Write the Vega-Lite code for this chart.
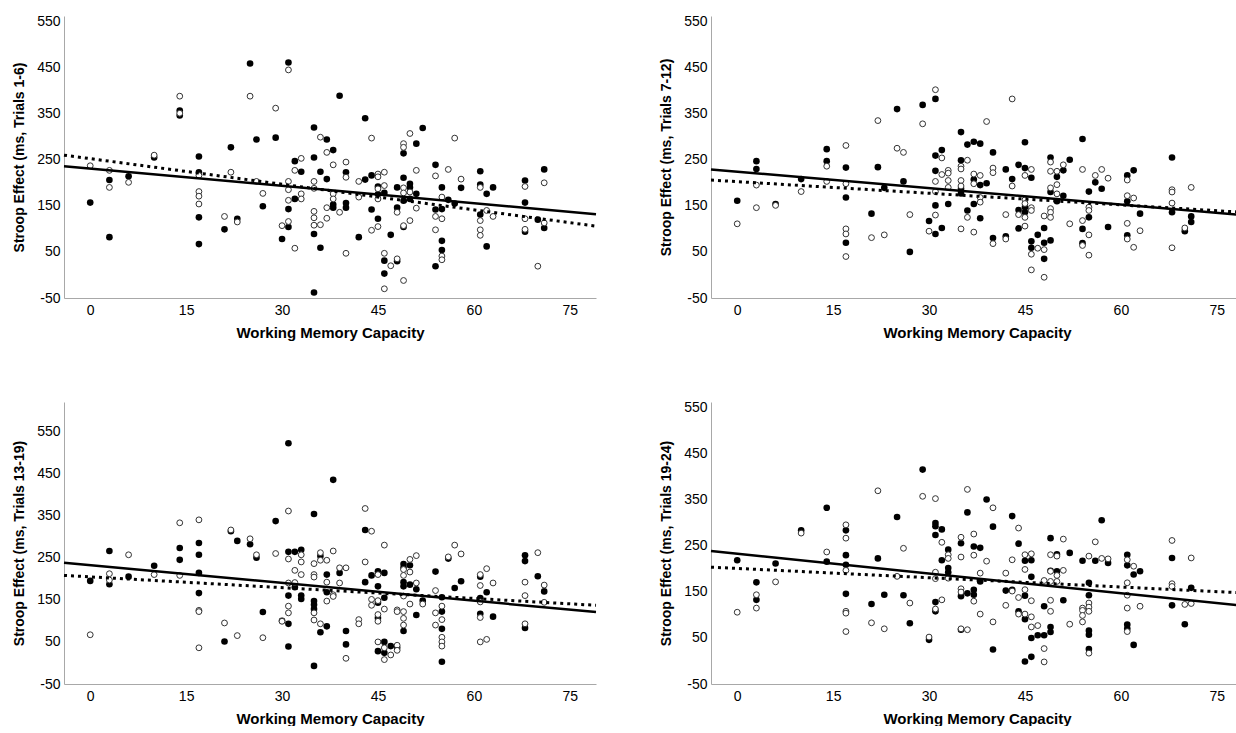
{
"$schema":"https://vega.github.io/schema/vega-lite/v6.json",
"background":"white",
"padding":{"left":12,"top":14,"right":0,"bottom":0},
"columns":2,
"spacing":{"row":60,"column":57},
"datasets":{
"fit":[
{"p":1,"s":"solid","x":-4.1,"y":236},{"p":1,"s":"solid","x":79.1,"y":132},
{"p":1,"s":"dot","x":-4.1,"y":260},{"p":1,"s":"dot","x":79.1,"y":106},
{"p":2,"s":"solid","x":-4.1,"y":229},{"p":2,"s":"solid","x":79.1,"y":130},
{"p":2,"s":"dot","x":-4.1,"y":206},{"p":2,"s":"dot","x":79.1,"y":136},
{"p":3,"s":"solid","x":-4.1,"y":238},{"p":3,"s":"solid","x":79.1,"y":121},
{"p":3,"s":"dot","x":-4.1,"y":208},{"p":3,"s":"dot","x":79.1,"y":137},
{"p":4,"s":"solid","x":-4.1,"y":239},{"p":4,"s":"solid","x":79.1,"y":120},
{"p":4,"s":"dot","x":-4.1,"y":204},{"p":4,"s":"dot","x":79.1,"y":148}
],
"pts":[
{"p":1,"c":"F","x":0,"y":157},{"p":1,"c":"F","x":3,"y":206},{"p":1,"c":"F","x":3,"y":82},{"p":1,"c":"F","x":6,"y":214},{"p":1,"c":"F","x":10,"y":255},{"p":1,"c":"F","x":14,"y":357},{"p":1,"c":"F","x":14,"y":346},{"p":1,"c":"F","x":17,"y":257},{"p":1,"c":"F","x":17,"y":223},{"p":1,"c":"F","x":17,"y":125},{"p":1,"c":"F","x":17,"y":67},{"p":1,"c":"F","x":21,"y":99},{"p":1,"c":"F","x":22,"y":277},{"p":1,"c":"F","x":23,"y":122},{"p":1,"c":"F","x":25,"y":459},{"p":1,"c":"F","x":26,"y":294},{"p":1,"c":"F","x":27,"y":149},{"p":1,"c":"F","x":29,"y":298},{"p":1,"c":"F","x":30,"y":78},{"p":1,"c":"F","x":31,"y":461},{"p":1,"c":"F","x":31,"y":143},{"p":1,"c":"F","x":31,"y":104},{"p":1,"c":"F","x":32,"y":247},{"p":1,"c":"F","x":32,"y":165},{"p":1,"c":"F","x":33,"y":224},{"p":1,"c":"F","x":35,"y":320},{"p":1,"c":"F","x":35,"y":255},{"p":1,"c":"F","x":35,"y":89},{"p":1,"c":"F","x":35,"y":-38},{"p":1,"c":"F","x":36,"y":224},{"p":1,"c":"F","x":36,"y":59},{"p":1,"c":"F","x":37,"y":294},{"p":1,"c":"F","x":37,"y":208},{"p":1,"c":"F","x":38,"y":271},{"p":1,"c":"F","x":38,"y":153},{"p":1,"c":"F","x":38,"y":146},{"p":1,"c":"F","x":39,"y":389},{"p":1,"c":"F","x":40,"y":223},{"p":1,"c":"F","x":40,"y":156},{"p":1,"c":"F","x":40,"y":146},{"p":1,"c":"F","x":42,"y":82},{"p":1,"c":"F","x":43,"y":340},{"p":1,"c":"F","x":43,"y":207},{"p":1,"c":"F","x":44,"y":216},{"p":1,"c":"F","x":44,"y":142},{"p":1,"c":"F","x":45,"y":192},{"p":1,"c":"F","x":45,"y":175},{"p":1,"c":"F","x":45,"y":122},{"p":1,"c":"F","x":46,"y":178},{"p":1,"c":"F","x":46,"y":31},{"p":1,"c":"F","x":46,"y":3},{"p":1,"c":"F","x":47,"y":87},{"p":1,"c":"F","x":48,"y":190},{"p":1,"c":"F","x":48,"y":146},{"p":1,"c":"F","x":48,"y":30},{"p":1,"c":"F","x":49,"y":264},{"p":1,"c":"F","x":49,"y":211},{"p":1,"c":"F","x":49,"y":161},{"p":1,"c":"F","x":49,"y":104},{"p":1,"c":"F","x":50,"y":198},{"p":1,"c":"F","x":50,"y":190},{"p":1,"c":"F","x":50,"y":165},{"p":1,"c":"F","x":51,"y":285},{"p":1,"c":"F","x":51,"y":176},{"p":1,"c":"F","x":52,"y":319},{"p":1,"c":"F","x":54,"y":239},{"p":1,"c":"F","x":54,"y":142},{"p":1,"c":"F","x":54,"y":19},{"p":1,"c":"F","x":55,"y":190},{"p":1,"c":"F","x":55,"y":143},{"p":1,"c":"F","x":55,"y":74},{"p":1,"c":"F","x":55,"y":54},{"p":1,"c":"F","x":56,"y":163},{"p":1,"c":"F","x":57,"y":155},{"p":1,"c":"F","x":58,"y":189},{"p":1,"c":"F","x":61,"y":225},{"p":1,"c":"F","x":61,"y":196},{"p":1,"c":"F","x":61,"y":131},{"p":1,"c":"F","x":62,"y":176},{"p":1,"c":"F","x":62,"y":62},{"p":1,"c":"F","x":63,"y":190},{"p":1,"c":"F","x":68,"y":205},{"p":1,"c":"F","x":68,"y":157},{"p":1,"c":"F","x":68,"y":94},{"p":1,"c":"F","x":70,"y":120},{"p":1,"c":"F","x":71,"y":229},{"p":1,"c":"F","x":71,"y":102},
{"p":1,"c":"O","x":0,"y":237},{"p":1,"c":"O","x":3,"y":227},{"p":1,"c":"O","x":3,"y":190},{"p":1,"c":"O","x":6,"y":201},{"p":1,"c":"O","x":10,"y":260},{"p":1,"c":"O","x":14,"y":388},{"p":1,"c":"O","x":14,"y":351},{"p":1,"c":"O","x":17,"y":216},{"p":1,"c":"O","x":17,"y":181},{"p":1,"c":"O","x":17,"y":171},{"p":1,"c":"O","x":17,"y":154},{"p":1,"c":"O","x":21,"y":127},{"p":1,"c":"O","x":22,"y":223},{"p":1,"c":"O","x":23,"y":115},{"p":1,"c":"O","x":25,"y":388},{"p":1,"c":"O","x":26,"y":203},{"p":1,"c":"O","x":27,"y":177},{"p":1,"c":"O","x":29,"y":362},{"p":1,"c":"O","x":30,"y":107},{"p":1,"c":"O","x":31,"y":445},{"p":1,"c":"O","x":31,"y":203},{"p":1,"c":"O","x":31,"y":185},{"p":1,"c":"O","x":31,"y":162},{"p":1,"c":"O","x":31,"y":116},{"p":1,"c":"O","x":32,"y":227},{"p":1,"c":"O","x":32,"y":58},{"p":1,"c":"O","x":33,"y":253},{"p":1,"c":"O","x":33,"y":176},{"p":1,"c":"O","x":33,"y":165},{"p":1,"c":"O","x":35,"y":203},{"p":1,"c":"O","x":35,"y":188},{"p":1,"c":"O","x":35,"y":138},{"p":1,"c":"O","x":35,"y":124},{"p":1,"c":"O","x":35,"y":108},{"p":1,"c":"O","x":36,"y":299},{"p":1,"c":"O","x":36,"y":109},{"p":1,"c":"O","x":37,"y":266},{"p":1,"c":"O","x":37,"y":146},{"p":1,"c":"O","x":37,"y":123},{"p":1,"c":"O","x":38,"y":239},{"p":1,"c":"O","x":38,"y":176},{"p":1,"c":"O","x":38,"y":165},{"p":1,"c":"O","x":39,"y":136},{"p":1,"c":"O","x":40,"y":245},{"p":1,"c":"O","x":40,"y":212},{"p":1,"c":"O","x":40,"y":47},{"p":1,"c":"O","x":42,"y":203},{"p":1,"c":"O","x":42,"y":169},{"p":1,"c":"O","x":44,"y":297},{"p":1,"c":"O","x":44,"y":97},{"p":1,"c":"O","x":45,"y":219},{"p":1,"c":"O","x":45,"y":213},{"p":1,"c":"O","x":45,"y":187},{"p":1,"c":"O","x":45,"y":165},{"p":1,"c":"O","x":45,"y":105},{"p":1,"c":"O","x":46,"y":223},{"p":1,"c":"O","x":46,"y":194},{"p":1,"c":"O","x":46,"y":47},{"p":1,"c":"O","x":46,"y":-30},{"p":1,"c":"O","x":47,"y":20},{"p":1,"c":"O","x":48,"y":136},{"p":1,"c":"O","x":48,"y":35},{"p":1,"c":"O","x":49,"y":285},{"p":1,"c":"O","x":49,"y":277},{"p":1,"c":"O","x":49,"y":189},{"p":1,"c":"O","x":49,"y":178},{"p":1,"c":"O","x":49,"y":107},{"p":1,"c":"O","x":49,"y":-12},{"p":1,"c":"O","x":50,"y":307},{"p":1,"c":"O","x":50,"y":180},{"p":1,"c":"O","x":50,"y":118},{"p":1,"c":"O","x":51,"y":227},{"p":1,"c":"O","x":51,"y":145},{"p":1,"c":"O","x":54,"y":215},{"p":1,"c":"O","x":54,"y":127},{"p":1,"c":"O","x":54,"y":98},{"p":1,"c":"O","x":55,"y":169},{"p":1,"c":"O","x":55,"y":122},{"p":1,"c":"O","x":55,"y":41},{"p":1,"c":"O","x":55,"y":33},{"p":1,"c":"O","x":56,"y":229},{"p":1,"c":"O","x":57,"y":297},{"p":1,"c":"O","x":58,"y":208},{"p":1,"c":"O","x":61,"y":190},{"p":1,"c":"O","x":61,"y":118},{"p":1,"c":"O","x":61,"y":98},{"p":1,"c":"O","x":61,"y":86},{"p":1,"c":"O","x":62,"y":140},{"p":1,"c":"O","x":63,"y":127},{"p":1,"c":"O","x":68,"y":192},{"p":1,"c":"O","x":68,"y":122},{"p":1,"c":"O","x":68,"y":99},{"p":1,"c":"O","x":70,"y":19},{"p":1,"c":"O","x":71,"y":200},{"p":1,"c":"O","x":71,"y":113},
{"p":2,"c":"F","x":0,"y":161},{"p":2,"c":"F","x":3,"y":247},{"p":2,"c":"F","x":3,"y":230},{"p":2,"c":"F","x":6,"y":154},{"p":2,"c":"F","x":10,"y":208},{"p":2,"c":"F","x":14,"y":273},{"p":2,"c":"F","x":14,"y":247},{"p":2,"c":"F","x":17,"y":233},{"p":2,"c":"F","x":17,"y":168},{"p":2,"c":"F","x":17,"y":70},{"p":2,"c":"F","x":21,"y":133},{"p":2,"c":"F","x":22,"y":234},{"p":2,"c":"F","x":23,"y":189},{"p":2,"c":"F","x":25,"y":360},{"p":2,"c":"F","x":26,"y":203},{"p":2,"c":"F","x":27,"y":50},{"p":2,"c":"F","x":29,"y":369},{"p":2,"c":"F","x":30,"y":117},{"p":2,"c":"F","x":31,"y":382},{"p":2,"c":"F","x":31,"y":259},{"p":2,"c":"F","x":31,"y":226},{"p":2,"c":"F","x":31,"y":151},{"p":2,"c":"F","x":31,"y":89},{"p":2,"c":"F","x":32,"y":271},{"p":2,"c":"F","x":32,"y":102},{"p":2,"c":"F","x":33,"y":154},{"p":2,"c":"F","x":35,"y":310},{"p":2,"c":"F","x":35,"y":249},{"p":2,"c":"F","x":35,"y":187},{"p":2,"c":"F","x":35,"y":177},{"p":2,"c":"F","x":36,"y":283},{"p":2,"c":"F","x":36,"y":140},{"p":2,"c":"F","x":37,"y":289},{"p":2,"c":"F","x":37,"y":207},{"p":2,"c":"F","x":37,"y":154},{"p":2,"c":"F","x":38,"y":285},{"p":2,"c":"F","x":38,"y":195},{"p":2,"c":"F","x":38,"y":123},{"p":2,"c":"F","x":39,"y":199},{"p":2,"c":"F","x":40,"y":266},{"p":2,"c":"F","x":40,"y":80},{"p":2,"c":"F","x":42,"y":229},{"p":2,"c":"F","x":42,"y":84},{"p":2,"c":"F","x":43,"y":208},{"p":2,"c":"F","x":44,"y":239},{"p":2,"c":"F","x":44,"y":141},{"p":2,"c":"F","x":44,"y":101},{"p":2,"c":"F","x":45,"y":288},{"p":2,"c":"F","x":45,"y":232},{"p":2,"c":"F","x":45,"y":147},{"p":2,"c":"F","x":45,"y":136},{"p":2,"c":"F","x":46,"y":211},{"p":2,"c":"F","x":46,"y":73},{"p":2,"c":"F","x":46,"y":59},{"p":2,"c":"F","x":47,"y":87},{"p":2,"c":"F","x":48,"y":102},{"p":2,"c":"F","x":48,"y":70},{"p":2,"c":"F","x":48,"y":35},{"p":2,"c":"F","x":49,"y":255},{"p":2,"c":"F","x":49,"y":180},{"p":2,"c":"F","x":49,"y":75},{"p":2,"c":"F","x":50,"y":213},{"p":2,"c":"F","x":50,"y":160},{"p":2,"c":"F","x":51,"y":227},{"p":2,"c":"F","x":51,"y":172},{"p":2,"c":"F","x":52,"y":250},{"p":2,"c":"F","x":54,"y":295},{"p":2,"c":"F","x":54,"y":100},{"p":2,"c":"F","x":54,"y":69},{"p":2,"c":"F","x":55,"y":181},{"p":2,"c":"F","x":55,"y":125},{"p":2,"c":"F","x":56,"y":201},{"p":2,"c":"F","x":57,"y":187},{"p":2,"c":"F","x":58,"y":104},{"p":2,"c":"F","x":61,"y":216},{"p":2,"c":"F","x":61,"y":160},{"p":2,"c":"F","x":61,"y":86},{"p":2,"c":"F","x":62,"y":227},{"p":2,"c":"F","x":63,"y":133},{"p":2,"c":"F","x":68,"y":255},{"p":2,"c":"F","x":68,"y":136},{"p":2,"c":"F","x":70,"y":95},{"p":2,"c":"F","x":71,"y":127},{"p":2,"c":"F","x":71,"y":115},
{"p":2,"c":"O","x":0,"y":111},{"p":2,"c":"O","x":3,"y":195},{"p":2,"c":"O","x":3,"y":146},{"p":2,"c":"O","x":6,"y":151},{"p":2,"c":"O","x":10,"y":181},{"p":2,"c":"O","x":14,"y":236},{"p":2,"c":"O","x":14,"y":203},{"p":2,"c":"O","x":17,"y":281},{"p":2,"c":"O","x":17,"y":198},{"p":2,"c":"O","x":17,"y":100},{"p":2,"c":"O","x":17,"y":89},{"p":2,"c":"O","x":17,"y":40},{"p":2,"c":"O","x":21,"y":81},{"p":2,"c":"O","x":22,"y":335},{"p":2,"c":"O","x":23,"y":87},{"p":2,"c":"O","x":25,"y":275},{"p":2,"c":"O","x":26,"y":266},{"p":2,"c":"O","x":27,"y":131},{"p":2,"c":"O","x":29,"y":328},{"p":2,"c":"O","x":30,"y":95},{"p":2,"c":"O","x":31,"y":402},{"p":2,"c":"O","x":31,"y":203},{"p":2,"c":"O","x":31,"y":181},{"p":2,"c":"O","x":31,"y":130},{"p":2,"c":"O","x":32,"y":254},{"p":2,"c":"O","x":32,"y":218},{"p":2,"c":"O","x":33,"y":227},{"p":2,"c":"O","x":33,"y":221},{"p":2,"c":"O","x":33,"y":205},{"p":2,"c":"O","x":33,"y":190},{"p":2,"c":"O","x":35,"y":236},{"p":2,"c":"O","x":35,"y":230},{"p":2,"c":"O","x":35,"y":205},{"p":2,"c":"O","x":35,"y":193},{"p":2,"c":"O","x":35,"y":100},{"p":2,"c":"O","x":36,"y":249},{"p":2,"c":"O","x":36,"y":125},{"p":2,"c":"O","x":37,"y":219},{"p":2,"c":"O","x":37,"y":198},{"p":2,"c":"O","x":37,"y":93},{"p":2,"c":"O","x":38,"y":216},{"p":2,"c":"O","x":38,"y":168},{"p":2,"c":"O","x":38,"y":158},{"p":2,"c":"O","x":39,"y":333},{"p":2,"c":"O","x":40,"y":232},{"p":2,"c":"O","x":40,"y":222},{"p":2,"c":"O","x":40,"y":68},{"p":2,"c":"O","x":42,"y":131},{"p":2,"c":"O","x":42,"y":78},{"p":2,"c":"O","x":43,"y":382},{"p":2,"c":"O","x":43,"y":193},{"p":2,"c":"O","x":44,"y":131},{"p":2,"c":"O","x":45,"y":216},{"p":2,"c":"O","x":45,"y":163},{"p":2,"c":"O","x":45,"y":155},{"p":2,"c":"O","x":45,"y":125},{"p":2,"c":"O","x":45,"y":106},{"p":2,"c":"O","x":46,"y":229},{"p":2,"c":"O","x":46,"y":146},{"p":2,"c":"O","x":46,"y":140},{"p":2,"c":"O","x":46,"y":45},{"p":2,"c":"O","x":46,"y":11},{"p":2,"c":"O","x":47,"y":58},{"p":2,"c":"O","x":48,"y":128},{"p":2,"c":"O","x":48,"y":55},{"p":2,"c":"O","x":48,"y":-5},{"p":2,"c":"O","x":49,"y":245},{"p":2,"c":"O","x":49,"y":225},{"p":2,"c":"O","x":49,"y":189},{"p":2,"c":"O","x":49,"y":144},{"p":2,"c":"O","x":49,"y":136},{"p":2,"c":"O","x":49,"y":125},{"p":2,"c":"O","x":50,"y":225},{"p":2,"c":"O","x":50,"y":196},{"p":2,"c":"O","x":50,"y":176},{"p":2,"c":"O","x":51,"y":239},{"p":2,"c":"O","x":52,"y":111},{"p":2,"c":"O","x":54,"y":229},{"p":2,"c":"O","x":54,"y":118},{"p":2,"c":"O","x":54,"y":64},{"p":2,"c":"O","x":55,"y":147},{"p":2,"c":"O","x":55,"y":140},{"p":2,"c":"O","x":55,"y":87},{"p":2,"c":"O","x":55,"y":43},{"p":2,"c":"O","x":56,"y":216},{"p":2,"c":"O","x":57,"y":229},{"p":2,"c":"O","x":58,"y":210},{"p":2,"c":"O","x":61,"y":206},{"p":2,"c":"O","x":61,"y":172},{"p":2,"c":"O","x":61,"y":112},{"p":2,"c":"O","x":61,"y":78},{"p":2,"c":"O","x":62,"y":167},{"p":2,"c":"O","x":62,"y":60},{"p":2,"c":"O","x":63,"y":96},{"p":2,"c":"O","x":68,"y":185},{"p":2,"c":"O","x":68,"y":180},{"p":2,"c":"O","x":68,"y":156},{"p":2,"c":"O","x":68,"y":59},{"p":2,"c":"O","x":70,"y":102},{"p":2,"c":"O","x":71,"y":190},
{"p":3,"c":"F","x":0,"y":195},{"p":3,"c":"F","x":3,"y":266},{"p":3,"c":"F","x":3,"y":187},{"p":3,"c":"F","x":6,"y":205},{"p":3,"c":"F","x":10,"y":231},{"p":3,"c":"F","x":14,"y":273},{"p":3,"c":"F","x":14,"y":245},{"p":3,"c":"F","x":17,"y":285},{"p":3,"c":"F","x":17,"y":257},{"p":3,"c":"F","x":17,"y":214},{"p":3,"c":"F","x":17,"y":166},{"p":3,"c":"F","x":21,"y":51},{"p":3,"c":"F","x":22,"y":313},{"p":3,"c":"F","x":23,"y":290},{"p":3,"c":"F","x":25,"y":282},{"p":3,"c":"F","x":26,"y":250},{"p":3,"c":"F","x":27,"y":121},{"p":3,"c":"F","x":29,"y":337},{"p":3,"c":"F","x":30,"y":100},{"p":3,"c":"F","x":31,"y":522},{"p":3,"c":"F","x":31,"y":264},{"p":3,"c":"F","x":31,"y":160},{"p":3,"c":"F","x":31,"y":93},{"p":3,"c":"F","x":31,"y":39},{"p":3,"c":"F","x":32,"y":264},{"p":3,"c":"F","x":32,"y":180},{"p":3,"c":"F","x":33,"y":269},{"p":3,"c":"F","x":33,"y":160},{"p":3,"c":"F","x":33,"y":152},{"p":3,"c":"F","x":35,"y":354},{"p":3,"c":"F","x":35,"y":147},{"p":3,"c":"F","x":35,"y":138},{"p":3,"c":"F","x":35,"y":128},{"p":3,"c":"F","x":35,"y":-7},{"p":3,"c":"F","x":36,"y":254},{"p":3,"c":"F","x":36,"y":73},{"p":3,"c":"F","x":37,"y":210},{"p":3,"c":"F","x":37,"y":168},{"p":3,"c":"F","x":37,"y":87},{"p":3,"c":"F","x":38,"y":435},{"p":3,"c":"F","x":39,"y":214},{"p":3,"c":"F","x":40,"y":76},{"p":3,"c":"F","x":40,"y":44},{"p":3,"c":"F","x":43,"y":316},{"p":3,"c":"F","x":43,"y":192},{"p":3,"c":"F","x":44,"y":208},{"p":3,"c":"F","x":45,"y":218},{"p":3,"c":"F","x":45,"y":182},{"p":3,"c":"F","x":45,"y":143},{"p":3,"c":"F","x":45,"y":107},{"p":3,"c":"F","x":45,"y":28},{"p":3,"c":"F","x":46,"y":214},{"p":3,"c":"F","x":46,"y":155},{"p":3,"c":"F","x":46,"y":50},{"p":3,"c":"F","x":46,"y":24},{"p":3,"c":"F","x":47,"y":40},{"p":3,"c":"F","x":48,"y":36},{"p":3,"c":"F","x":49,"y":235},{"p":3,"c":"F","x":49,"y":226},{"p":3,"c":"F","x":49,"y":192},{"p":3,"c":"F","x":49,"y":182},{"p":3,"c":"F","x":49,"y":76},{"p":3,"c":"F","x":50,"y":232},{"p":3,"c":"F","x":50,"y":186},{"p":3,"c":"F","x":51,"y":175},{"p":3,"c":"F","x":51,"y":114},{"p":3,"c":"F","x":52,"y":148},{"p":3,"c":"F","x":54,"y":217},{"p":3,"c":"F","x":55,"y":156},{"p":3,"c":"F","x":55,"y":122},{"p":3,"c":"F","x":55,"y":81},{"p":3,"c":"F","x":55,"y":3},{"p":3,"c":"F","x":56,"y":248},{"p":3,"c":"F","x":57,"y":178},{"p":3,"c":"F","x":58,"y":194},{"p":3,"c":"F","x":61,"y":205},{"p":3,"c":"F","x":61,"y":154},{"p":3,"c":"F","x":61,"y":117},{"p":3,"c":"F","x":62,"y":168},{"p":3,"c":"F","x":63,"y":110},{"p":3,"c":"F","x":68,"y":256},{"p":3,"c":"F","x":68,"y":242},{"p":3,"c":"F","x":68,"y":83},{"p":3,"c":"F","x":70,"y":206},{"p":3,"c":"F","x":71,"y":170},
{"p":3,"c":"O","x":0,"y":67},{"p":3,"c":"O","x":3,"y":212},{"p":3,"c":"O","x":3,"y":197},{"p":3,"c":"O","x":6,"y":257},{"p":3,"c":"O","x":10,"y":210},{"p":3,"c":"O","x":14,"y":333},{"p":3,"c":"O","x":14,"y":208},{"p":3,"c":"O","x":17,"y":340},{"p":3,"c":"O","x":17,"y":125},{"p":3,"c":"O","x":17,"y":122},{"p":3,"c":"O","x":17,"y":36},{"p":3,"c":"O","x":21,"y":95},{"p":3,"c":"O","x":22,"y":316},{"p":3,"c":"O","x":23,"y":65},{"p":3,"c":"O","x":25,"y":295},{"p":3,"c":"O","x":26,"y":257},{"p":3,"c":"O","x":27,"y":60},{"p":3,"c":"O","x":29,"y":260},{"p":3,"c":"O","x":30,"y":99},{"p":3,"c":"O","x":31,"y":361},{"p":3,"c":"O","x":31,"y":247},{"p":3,"c":"O","x":31,"y":190},{"p":3,"c":"O","x":31,"y":135},{"p":3,"c":"O","x":31,"y":119},{"p":3,"c":"O","x":32,"y":220},{"p":3,"c":"O","x":32,"y":191},{"p":3,"c":"O","x":33,"y":257},{"p":3,"c":"O","x":33,"y":240},{"p":3,"c":"O","x":33,"y":210},{"p":3,"c":"O","x":35,"y":236},{"p":3,"c":"O","x":35,"y":210},{"p":3,"c":"O","x":35,"y":204},{"p":3,"c":"O","x":35,"y":119},{"p":3,"c":"O","x":35,"y":102},{"p":3,"c":"O","x":36,"y":262},{"p":3,"c":"O","x":36,"y":244},{"p":3,"c":"O","x":36,"y":93},{"p":3,"c":"O","x":37,"y":244},{"p":3,"c":"O","x":37,"y":192},{"p":3,"c":"O","x":37,"y":147},{"p":3,"c":"O","x":38,"y":266},{"p":3,"c":"O","x":38,"y":162},{"p":3,"c":"O","x":38,"y":158},{"p":3,"c":"O","x":39,"y":226},{"p":3,"c":"O","x":39,"y":190},{"p":3,"c":"O","x":40,"y":226},{"p":3,"c":"O","x":40,"y":11},{"p":3,"c":"O","x":42,"y":103},{"p":3,"c":"O","x":42,"y":93},{"p":3,"c":"O","x":43,"y":367},{"p":3,"c":"O","x":43,"y":240},{"p":3,"c":"O","x":44,"y":313},{"p":3,"c":"O","x":44,"y":151},{"p":3,"c":"O","x":44,"y":137},{"p":3,"c":"O","x":45,"y":210},{"p":3,"c":"O","x":45,"y":148},{"p":3,"c":"O","x":45,"y":115},{"p":3,"c":"O","x":45,"y":99},{"p":3,"c":"O","x":45,"y":50},{"p":3,"c":"O","x":46,"y":280},{"p":3,"c":"O","x":46,"y":128},{"p":3,"c":"O","x":46,"y":36},{"p":3,"c":"O","x":46,"y":8},{"p":3,"c":"O","x":47,"y":19},{"p":3,"c":"O","x":48,"y":126},{"p":3,"c":"O","x":48,"y":122},{"p":3,"c":"O","x":48,"y":42},{"p":3,"c":"O","x":48,"y":30},{"p":3,"c":"O","x":49,"y":222},{"p":3,"c":"O","x":49,"y":208},{"p":3,"c":"O","x":49,"y":159},{"p":3,"c":"O","x":49,"y":122},{"p":3,"c":"O","x":49,"y":106},{"p":3,"c":"O","x":49,"y":90},{"p":3,"c":"O","x":50,"y":246},{"p":3,"c":"O","x":50,"y":216},{"p":3,"c":"O","x":50,"y":140},{"p":3,"c":"O","x":51,"y":255},{"p":3,"c":"O","x":51,"y":190},{"p":3,"c":"O","x":52,"y":140},{"p":3,"c":"O","x":54,"y":172},{"p":3,"c":"O","x":54,"y":119},{"p":3,"c":"O","x":54,"y":90},{"p":3,"c":"O","x":55,"y":135},{"p":3,"c":"O","x":55,"y":103},{"p":3,"c":"O","x":55,"y":61},{"p":3,"c":"O","x":55,"y":50},{"p":3,"c":"O","x":55,"y":40},{"p":3,"c":"O","x":56,"y":252},{"p":3,"c":"O","x":57,"y":280},{"p":3,"c":"O","x":58,"y":259},{"p":3,"c":"O","x":61,"y":210},{"p":3,"c":"O","x":61,"y":184},{"p":3,"c":"O","x":61,"y":145},{"p":3,"c":"O","x":61,"y":108},{"p":3,"c":"O","x":61,"y":50},{"p":3,"c":"O","x":62,"y":224},{"p":3,"c":"O","x":62,"y":56},{"p":3,"c":"O","x":63,"y":190},{"p":3,"c":"O","x":68,"y":192},{"p":3,"c":"O","x":68,"y":160},{"p":3,"c":"O","x":68,"y":93},{"p":3,"c":"O","x":70,"y":262},{"p":3,"c":"O","x":71,"y":185},{"p":3,"c":"O","x":71,"y":144},
{"p":4,"c":"F","x":0,"y":219},{"p":4,"c":"F","x":3,"y":171},{"p":4,"c":"F","x":3,"y":133},{"p":4,"c":"F","x":6,"y":212},{"p":4,"c":"F","x":10,"y":284},{"p":4,"c":"F","x":14,"y":333},{"p":4,"c":"F","x":14,"y":216},{"p":4,"c":"F","x":17,"y":284},{"p":4,"c":"F","x":17,"y":230},{"p":4,"c":"F","x":17,"y":209},{"p":4,"c":"F","x":17,"y":146},{"p":4,"c":"F","x":21,"y":124},{"p":4,"c":"F","x":22,"y":223},{"p":4,"c":"F","x":23,"y":144},{"p":4,"c":"F","x":25,"y":313},{"p":4,"c":"F","x":26,"y":143},{"p":4,"c":"F","x":27,"y":82},{"p":4,"c":"F","x":29,"y":416},{"p":4,"c":"F","x":30,"y":46},{"p":4,"c":"F","x":31,"y":300},{"p":4,"c":"F","x":31,"y":293},{"p":4,"c":"F","x":31,"y":274},{"p":4,"c":"F","x":31,"y":128},{"p":4,"c":"F","x":31,"y":108},{"p":4,"c":"F","x":32,"y":286},{"p":4,"c":"F","x":32,"y":219},{"p":4,"c":"F","x":33,"y":242},{"p":4,"c":"F","x":33,"y":202},{"p":4,"c":"F","x":33,"y":193},{"p":4,"c":"F","x":35,"y":256},{"p":4,"c":"F","x":35,"y":141},{"p":4,"c":"F","x":35,"y":68},{"p":4,"c":"F","x":36,"y":323},{"p":4,"c":"F","x":36,"y":147},{"p":4,"c":"F","x":37,"y":249},{"p":4,"c":"F","x":37,"y":155},{"p":4,"c":"F","x":37,"y":144},{"p":4,"c":"F","x":38,"y":246},{"p":4,"c":"F","x":38,"y":173},{"p":4,"c":"F","x":39,"y":351},{"p":4,"c":"F","x":40,"y":292},{"p":4,"c":"F","x":40,"y":25},{"p":4,"c":"F","x":42,"y":153},{"p":4,"c":"F","x":43,"y":315},{"p":4,"c":"F","x":43,"y":155},{"p":4,"c":"F","x":44,"y":255},{"p":4,"c":"F","x":44,"y":108},{"p":4,"c":"F","x":45,"y":218},{"p":4,"c":"F","x":45,"y":142},{"p":4,"c":"F","x":45,"y":91},{"p":4,"c":"F","x":45,"y":-1},{"p":4,"c":"F","x":46,"y":219},{"p":4,"c":"F","x":46,"y":183},{"p":4,"c":"F","x":46,"y":50},{"p":4,"c":"F","x":46,"y":9},{"p":4,"c":"F","x":47,"y":56},{"p":4,"c":"F","x":48,"y":119},{"p":4,"c":"F","x":48,"y":56},{"p":4,"c":"F","x":49,"y":267},{"p":4,"c":"F","x":49,"y":196},{"p":4,"c":"F","x":49,"y":74},{"p":4,"c":"F","x":49,"y":63},{"p":4,"c":"F","x":50,"y":232},{"p":4,"c":"F","x":50,"y":195},{"p":4,"c":"F","x":51,"y":132},{"p":4,"c":"F","x":52,"y":235},{"p":4,"c":"F","x":54,"y":218},{"p":4,"c":"F","x":55,"y":170},{"p":4,"c":"F","x":55,"y":143},{"p":4,"c":"F","x":55,"y":66},{"p":4,"c":"F","x":55,"y":57},{"p":4,"c":"F","x":55,"y":26},{"p":4,"c":"F","x":56,"y":218},{"p":4,"c":"F","x":57,"y":306},{"p":4,"c":"F","x":58,"y":213},{"p":4,"c":"F","x":61,"y":231},{"p":4,"c":"F","x":61,"y":208},{"p":4,"c":"F","x":61,"y":79},{"p":4,"c":"F","x":61,"y":70},{"p":4,"c":"F","x":62,"y":188},{"p":4,"c":"F","x":62,"y":35},{"p":4,"c":"F","x":63,"y":195},{"p":4,"c":"F","x":68,"y":224},{"p":4,"c":"F","x":68,"y":121},{"p":4,"c":"F","x":70,"y":80},{"p":4,"c":"F","x":71,"y":159},
{"p":4,"c":"O","x":0,"y":106},{"p":4,"c":"O","x":3,"y":144},{"p":4,"c":"O","x":3,"y":115},{"p":4,"c":"O","x":6,"y":172},{"p":4,"c":"O","x":10,"y":278},{"p":4,"c":"O","x":14,"y":237},{"p":4,"c":"O","x":17,"y":296},{"p":4,"c":"O","x":17,"y":267},{"p":4,"c":"O","x":17,"y":197},{"p":4,"c":"O","x":17,"y":108},{"p":4,"c":"O","x":17,"y":104},{"p":4,"c":"O","x":17,"y":64},{"p":4,"c":"O","x":21,"y":83},{"p":4,"c":"O","x":22,"y":370},{"p":4,"c":"O","x":23,"y":70},{"p":4,"c":"O","x":25,"y":184},{"p":4,"c":"O","x":26,"y":245},{"p":4,"c":"O","x":27,"y":126},{"p":4,"c":"O","x":29,"y":358},{"p":4,"c":"O","x":30,"y":52},{"p":4,"c":"O","x":31,"y":353},{"p":4,"c":"O","x":31,"y":193},{"p":4,"c":"O","x":31,"y":179},{"p":4,"c":"O","x":31,"y":113},{"p":4,"c":"O","x":32,"y":258},{"p":4,"c":"O","x":32,"y":133},{"p":4,"c":"O","x":33,"y":231},{"p":4,"c":"O","x":33,"y":223},{"p":4,"c":"O","x":33,"y":180},{"p":4,"c":"O","x":35,"y":269},{"p":4,"c":"O","x":35,"y":226},{"p":4,"c":"O","x":35,"y":157},{"p":4,"c":"O","x":35,"y":150},{"p":4,"c":"O","x":35,"y":70},{"p":4,"c":"O","x":36,"y":373},{"p":4,"c":"O","x":36,"y":68},{"p":4,"c":"O","x":37,"y":276},{"p":4,"c":"O","x":37,"y":230},{"p":4,"c":"O","x":37,"y":130},{"p":4,"c":"O","x":38,"y":191},{"p":4,"c":"O","x":38,"y":102},{"p":4,"c":"O","x":39,"y":217},{"p":4,"c":"O","x":40,"y":333},{"p":4,"c":"O","x":40,"y":85},{"p":4,"c":"O","x":42,"y":191},{"p":4,"c":"O","x":42,"y":121},{"p":4,"c":"O","x":43,"y":220},{"p":4,"c":"O","x":43,"y":152},{"p":4,"c":"O","x":44,"y":289},{"p":4,"c":"O","x":44,"y":138},{"p":4,"c":"O","x":44,"y":102},{"p":4,"c":"O","x":45,"y":231},{"p":4,"c":"O","x":45,"y":199},{"p":4,"c":"O","x":45,"y":155},{"p":4,"c":"O","x":45,"y":102},{"p":4,"c":"O","x":46,"y":233},{"p":4,"c":"O","x":46,"y":131},{"p":4,"c":"O","x":46,"y":96},{"p":4,"c":"O","x":46,"y":74},{"p":4,"c":"O","x":47,"y":77},{"p":4,"c":"O","x":48,"y":175},{"p":4,"c":"O","x":48,"y":27},{"p":4,"c":"O","x":48,"y":-2},{"p":4,"c":"O","x":49,"y":231},{"p":4,"c":"O","x":49,"y":195},{"p":4,"c":"O","x":49,"y":173},{"p":4,"c":"O","x":49,"y":132},{"p":4,"c":"O","x":49,"y":108},{"p":4,"c":"O","x":50,"y":228},{"p":4,"c":"O","x":50,"y":186},{"p":4,"c":"O","x":50,"y":173},{"p":4,"c":"O","x":51,"y":265},{"p":4,"c":"O","x":51,"y":197},{"p":4,"c":"O","x":52,"y":80},{"p":4,"c":"O","x":54,"y":115},{"p":4,"c":"O","x":54,"y":110},{"p":4,"c":"O","x":54,"y":99},{"p":4,"c":"O","x":54,"y":85},{"p":4,"c":"O","x":55,"y":228},{"p":4,"c":"O","x":55,"y":126},{"p":4,"c":"O","x":55,"y":117},{"p":4,"c":"O","x":55,"y":108},{"p":4,"c":"O","x":55,"y":17},{"p":4,"c":"O","x":56,"y":259},{"p":4,"c":"O","x":57,"y":223},{"p":4,"c":"O","x":58,"y":222},{"p":4,"c":"O","x":61,"y":220},{"p":4,"c":"O","x":61,"y":170},{"p":4,"c":"O","x":61,"y":143},{"p":4,"c":"O","x":61,"y":115},{"p":4,"c":"O","x":61,"y":64},{"p":4,"c":"O","x":62,"y":206},{"p":4,"c":"O","x":63,"y":119},{"p":4,"c":"O","x":68,"y":262},{"p":4,"c":"O","x":68,"y":168},{"p":4,"c":"O","x":68,"y":162},{"p":4,"c":"O","x":70,"y":123},{"p":4,"c":"O","x":71,"y":224},{"p":4,"c":"O","x":71,"y":125}
]
},
"concat":[
{"width":532,"height":282,
 "encoding":{"x":{"field":"x","type":"quantitative","scale":{"domain":[-4.1,79.1],"nice":false,"zero":false},"axis":{"values":[0,15,30,45,60,75],"title":"Working Memory Capacity"}},
  "y":{"field":"y","type":"quantitative","scale":{"domain":[-50,562],"nice":false,"zero":false},"axis":{"values":[-50,50,150,250,350,450,550],"labelExpr":"datum.value < 0 ? '-' + abs(datum.value) : '' + datum.value","title":"Stroop Effect (ms, Trials 1-6)"}}},
 "layer":[
  {"data":{"name":"pts"},"transform":[{"filter":"datum.p==1 && datum.c=='F'"}],"mark":{"type":"circle","size":44,"color":"#000","opacity":1}},
  {"data":{"name":"pts"},"transform":[{"filter":"datum.p==1 && datum.c=='O'"}],"mark":{"type":"circle","size":34,"fill":"#fff","stroke":"#333","strokeWidth":1,"opacity":1}},
  {"data":{"name":"fit"},"transform":[{"filter":"datum.p==1 && datum.s=='solid'"}],"mark":{"type":"line","color":"#000","strokeWidth":2.5},"encoding":{}},
  {"data":{"name":"fit"},"transform":[{"filter":"datum.p==1 && datum.s=='dot'"}],"mark":{"type":"line","color":"#000","strokeWidth":3,"strokeDash":[3,4]},"encoding":{}}
 ]},
{"width":532,"height":282,
 "encoding":{"x":{"field":"x","type":"quantitative","scale":{"domain":[-4.1,79.1],"nice":false,"zero":false},"axis":{"values":[0,15,30,45,60,75],"title":"Working Memory Capacity"}},
  "y":{"field":"y","type":"quantitative","scale":{"domain":[-50,562],"nice":false,"zero":false},"axis":{"values":[-50,50,150,250,350,450,550],"labelExpr":"datum.value < 0 ? '-' + abs(datum.value) : '' + datum.value","title":"Stroop Effect (ms, Trials 7-12)"}}},
 "layer":[
  {"data":{"name":"pts"},"transform":[{"filter":"datum.p==2 && datum.c=='F'"}],"mark":{"type":"circle","size":44,"color":"#000","opacity":1}},
  {"data":{"name":"pts"},"transform":[{"filter":"datum.p==2 && datum.c=='O'"}],"mark":{"type":"circle","size":34,"fill":"#fff","stroke":"#333","strokeWidth":1,"opacity":1}},
  {"data":{"name":"fit"},"transform":[{"filter":"datum.p==2 && datum.s=='solid'"}],"mark":{"type":"line","color":"#000","strokeWidth":2.5},"encoding":{}},
  {"data":{"name":"fit"},"transform":[{"filter":"datum.p==2 && datum.s=='dot'"}],"mark":{"type":"line","color":"#000","strokeWidth":3,"strokeDash":[3,4]},"encoding":{}}
 ]},
{"width":532,"height":282,
 "encoding":{"x":{"field":"x","type":"quantitative","scale":{"domain":[-4.1,79.1],"nice":false,"zero":false},"axis":{"values":[0,15,30,45,60,75],"title":"Working Memory Capacity"}},
  "y":{"field":"y","type":"quantitative","scale":{"domain":[-50,620],"nice":false,"zero":false},"axis":{"values":[-50,50,150,250,350,450,550],"labelExpr":"datum.value < 0 ? '-' + abs(datum.value) : '' + datum.value","title":"Stroop Effect (ms, Trials 13-19)"}}},
 "layer":[
  {"data":{"name":"pts"},"transform":[{"filter":"datum.p==3 && datum.c=='F'"}],"mark":{"type":"circle","size":44,"color":"#000","opacity":1}},
  {"data":{"name":"pts"},"transform":[{"filter":"datum.p==3 && datum.c=='O'"}],"mark":{"type":"circle","size":34,"fill":"#fff","stroke":"#333","strokeWidth":1,"opacity":1}},
  {"data":{"name":"fit"},"transform":[{"filter":"datum.p==3 && datum.s=='solid'"}],"mark":{"type":"line","color":"#000","strokeWidth":2.5},"encoding":{}},
  {"data":{"name":"fit"},"transform":[{"filter":"datum.p==3 && datum.s=='dot'"}],"mark":{"type":"line","color":"#000","strokeWidth":3,"strokeDash":[3,4]},"encoding":{}}
 ]},
{"width":532,"height":282,
 "encoding":{"x":{"field":"x","type":"quantitative","scale":{"domain":[-4.1,79.1],"nice":false,"zero":false},"axis":{"values":[0,15,30,45,60,75],"title":"Working Memory Capacity"}},
  "y":{"field":"y","type":"quantitative","scale":{"domain":[-50,563],"nice":false,"zero":false},"axis":{"values":[-50,50,150,250,350,450,550],"labelExpr":"datum.value < 0 ? '-' + abs(datum.value) : '' + datum.value","title":"Stroop Effect (ms, Trials 19-24)"}}},
 "layer":[
  {"data":{"name":"pts"},"transform":[{"filter":"datum.p==4 && datum.c=='F'"}],"mark":{"type":"circle","size":44,"color":"#000","opacity":1}},
  {"data":{"name":"pts"},"transform":[{"filter":"datum.p==4 && datum.c=='O'"}],"mark":{"type":"circle","size":34,"fill":"#fff","stroke":"#333","strokeWidth":1,"opacity":1}},
  {"data":{"name":"fit"},"transform":[{"filter":"datum.p==4 && datum.s=='solid'"}],"mark":{"type":"line","color":"#000","strokeWidth":2.5},"encoding":{}},
  {"data":{"name":"fit"},"transform":[{"filter":"datum.p==4 && datum.s=='dot'"}],"mark":{"type":"line","color":"#000","strokeWidth":3,"strokeDash":[3,4]},"encoding":{}}
 ]}
],
"config":{
 "view":{"stroke":null},
 "axis":{"grid":false,"ticks":false,"domainColor":"#a8a8a8","domainWidth":1,"labelFont":"Liberation Sans","labelFontSize":14,"labelColor":"#000","titleFont":"Liberation Sans","titleFontWeight":"bold","titleColor":"#000","labelPadding":4,"labelFlush":false},
 "axisX":{"titleFontSize":15,"labelPadding":5,"titlePadding":8},
 "axisY":{"titleFontSize":14,"titlePadding":10}
}
}
